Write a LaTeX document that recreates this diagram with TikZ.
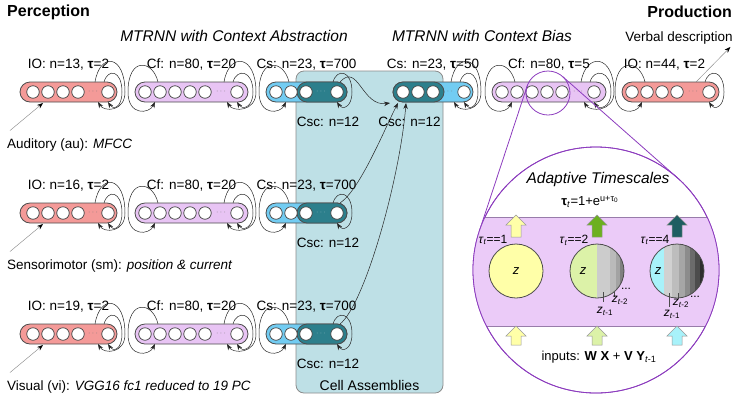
\documentclass[tikz,border=0pt]{standalone}
\usepackage{fontspec}
\setmainfont{Liberation Sans}
\usetikzlibrary{arrows.meta,positioning,calc}

\definecolor{ioRed}{HTML}{F49A98}
\definecolor{cfLila}{HTML}{E8C4F4}
\definecolor{csBlue}{HTML}{72CCF2}
\definecolor{cscTeal}{HTML}{2C7F8C}
\definecolor{caBox}{HTML}{BEE0E6}
\definecolor{zoomLila}{HTML}{8C3CBE}
\definecolor{bandLila}{HTML}{EBCBF8}
\definecolor{zYellow}{HTML}{FFFFA8}
\definecolor{zGreen}{HTML}{DCF2A8}
\definecolor{zCyan}{HTML}{A8F2FA}
\definecolor{outGreen}{HTML}{6CB020}
\definecolor{outTeal}{HTML}{1E5E62}

\tikzset{
  bar/.style={rectangle, rounded corners=10pt, draw=black!70, line width=0.8pt,
    minimum height=20pt, inner sep=0pt, outer sep=0pt},
  unit/.style={circle, draw=black!75, fill=white, line width=0.7pt,
    minimum size=12.5pt, inner sep=0pt, outer sep=0pt},
  more/.style={font=\fontsize{8}{8}\selectfont, text=black!55, inner sep=0pt},
  lbl/.style={font=\fontsize{13.5}{16}\selectfont, inner sep=0pt},
  link/.style={-{Stealth[length=6pt,width=4.5pt]}, black!85, line width=0.5pt},
  feed/.style={-{Stealth[length=6pt,width=4.5pt,color=black]}, draw=black!45, line width=0.45pt},
  cabox/.style={rectangle, rounded corners=8pt, draw=black!45, fill=caBox, line width=0.8pt},
  neuron/.style={circle, draw=black!70, line width=0.8pt, minimum size=54pt,
    inner sep=0pt, outer sep=0pt, font=\fontsize{13}{15}\selectfont\itshape},
  lens/.style={circle, draw=zoomLila, line width=0.8pt, inner sep=0pt, outer sep=0pt},
  small/.style={font=\fontsize{12}{14}\selectfont, inner sep=0pt},
}

% recurrent loops round the end of a layer
\newcommand\selfloop[2]{%
  \draw[link] ($(#2|-#1.north)+(-4,0)$) .. controls +(4,-14) and +(0,-22) .. ($(#1.east)+(5,0)$)
    .. controls +(0,16) and +(5,8) .. (#2|-#1.south);}
\newcommand\backloop[2]{%
  \draw[link] ($(#2|-#1.north)+(-13,0)$) .. controls +(5,-30) and +(0,-38) .. ($(#1.east)+(8,0)$)
    .. controls +(0,20) and +(6,10) .. ($(#2|-#1.south)+(-10,0)$);}
\newcommand\fwdloop[2]{%
  \draw[link] ($(#2|-#1.north)+(-2,0)$) .. controls +(-5,-22) and +(0,-36) .. ($(#1.west)+(-7,0)$)
    .. controls +(0,24) and +(-6,12) .. ($(#2|-#1.south)+(-5,0)$);}
% block arrow pointing up: x, tip y, length, colour
\newcommand\upblock[4]{%
  \draw[black!40, line width=0.5pt, fill=#4] (#1,#2) -- ++(10,10) -- ++(-5,0) -- ++(0,#3-10)
    -- ++(-10,0) -- ++(0,10-#3) -- ++(-5,0) -- cycle;}

\begin{document}
\begin{tikzpicture}[x=1pt, y=-1pt]
  \useasboundingbox (0,0) rectangle (738,400);

  % cell assemblies
  \node[cabox, minimum width=147pt, minimum height=322pt] (ca) at (369.5,232) {};
  \node[lbl, font=\fontsize{14}{17}\selectfont, above=3pt of ca.south] (caLabel) {Cell Assemblies};

  % titles
  \node[font=\bfseries\fontsize{16}{19}\selectfont, anchor=west, inner sep=0pt] (perc) at (7,12) {Perception};
  \node[font=\bfseries\fontsize{16}{19}\selectfont, anchor=east, inner sep=0pt] (prod) at (732,12) {Production};
  \node[font=\itshape\fontsize{15.5}{18}\selectfont] (mtrnnA) at (234,36) {MTRNN with Context Abstraction};
  \node[font=\itshape\fontsize{15.5}{18}\selectfont] (mtrnnB) at (482,36) {MTRNN with Context Bias};
  \node[lbl] (verbal) at (679,38) {Verbal description};

  % perception
  \foreach \row/\y/\nio/\src in {au/92/13/{Auditory (au): \textit{MFCC}},
      sm/213/16/{Sensorimotor (sm): \textit{position \& current}},
      vi/334/19/{Visual (vi): \textit{VGG16 fc1 reduced to 19 PC}}}{
    \node[bar, fill=ioRed, minimum width=97pt] (\row IO) at (68.5,\y) {};
    \foreach \i/\ux in {1/33,2/48,3/63,4/78,n/108}
      \node[unit] (\row IO\i) at (\ux,\y) {};
    \node[more] at (93,\y) {$\cdots$};
    \node[bar, fill=cfLila, minimum width=113pt] (\row Cf) at (191.5,\y) {};
    \foreach \i/\ux in {1/145,2/160,3/175,4/190,5/205,n/237}
      \node[unit] (\row Cf\i) at (\ux,\y) {};
    \node[more] at (221,\y) {$\cdots$};
    \node[bar, fill=csBlue, minimum width=81pt] (\row Cs) at (306.5,\y) {};
    \node[bar, fill=cscTeal, minimum width=50pt] (\row Csc) at (322,\y) {};
    \foreach \i/\ux in {1/276,2/291,3/306,n/337}
      \node[unit] (\row Cs\i) at (\ux,\y) {};
    \node[more, text=white!50!cscTeal] at (321,\y) {$\cdots$};

    \node[lbl, above=11.5pt of \row IO] {IO: n=\nio, \textbf{τ}=2};
    \node[lbl, above=11.5pt of \row Cf] {Cf: n=80, \textbf{τ}=20};
    \node[lbl, above=11.5pt of \row Cs] {Cs: n=23, \textbf{τ}=700};
    \node[lbl, below=15pt of \row Csc, xshift=6pt] {Csc: n=12};
    \node[lbl, anchor=west] (\row In) at (7,\y+53) {\src};
    \draw[feed] ($(\row In.north west)+(3,-8)$) -- ($(\row IO1|-\row IO.south)+(10,1)$);

    \selfloop{\row IO}{\row IOn}
    \backloop{\row IO}{\row IOn}
    \fwdloop{\row Cf}{\row Cf2}
    \selfloop{\row Cf}{\row Cfn}
    \backloop{\row Cf}{\row Cfn}
    \fwdloop{\row Cs}{\row Cs2}
    \selfloop{\row Cs}{\row Csn}
  }

  % production
  \node[bar, fill=csBlue, minimum width=80pt] (prCs) at (433,92) {};
  \node[bar, fill=cscTeal, minimum width=51pt] (prCsc) at (418.5,92) {};
  \foreach \i/\ux in {1/403,2/418,3/433,n/464}
    \node[unit] (prCs\i) at (\ux,92) {};
  \node[more] at (448,92) {$\cdots$};
  \node[bar, fill=cfLila, minimum width=114pt] (prCf) at (549,92) {};
  \foreach \i/\ux in {1/502,2/517,3/532,4/547,5/562,n/594}
    \node[unit] (prCf\i) at (\ux,92) {};
  \node[more] at (578,92) {$\cdots$};
  \node[bar, fill=ioRed, minimum width=97pt] (prIO) at (670.5,92) {};
  \foreach \i/\ux in {1/632,2/647,3/662,4/677,n/709}
    \node[unit] (prIO\i) at (\ux,92) {};
  \node[more] at (693,92) {$\cdots$};

  \node[lbl, above=11.5pt of prCs] {Cs: n=23, \textbf{τ}=50};
  \node[lbl, below=15pt of prCsc, xshift=-9pt] {Csc: n=12};
  \node[lbl, above=11.5pt of prCf] {Cf: n=80, \textbf{τ}=5};
  \node[lbl, above=11.5pt of prIO, xshift=-6pt] {IO: n=44, \textbf{τ}=2};

  \selfloop{prCs}{prCsn}
  \backloop{prCs}{prCsn}
  \fwdloop{prCf}{prCf2}
  \selfloop{prCf}{prCfn}
  \backloop{prCf}{prCfn}
  \fwdloop{prIO}{prIO2}
  \selfloop{prIO}{prIOn}
  \draw[feed] ($(prIOn|-prIO.north)+(-13,0)$) -- ($(verbal.south east)+(-2.5,2.5)$);

  % context links into the cell assemblies
  \draw[link] ($(auCsn|-auCs.north)+(3,0)$) .. controls +(18,-20) and +(-28,4) .. ($(prCs1|-prCs.south)+(-13,1)$);
  \draw[link] ($(smCsn|-smCs.north)+(3,0)$) .. controls +(20,-13) and +(-13,25) .. ($(prCs1|-prCs.south)+(-5,1)$);
  \draw[link] ($(viCsn|-viCs.north)+(3,0)$) .. controls +(25,-20) and +(-6,75) .. ($(prCs1|-prCs.south)+(3,1)$);

  % adaptive timescales
  \node[lens, minimum size=44pt] (lens) at (548,93) {};
  \node[lens, fill=white, minimum size=246pt] (detail) at (596,270) {};
  \draw[zoomLila, line width=0.8pt] (lens.161.8) -- (detail.161.8) (lens.48.6) -- (detail.48.6);
  \begin{scope}
    \clip (detail.center) circle[radius=123pt];
    \fill[bandLila] (470,217) rectangle (725,326);
    \draw[black!40!zoomLila!60, line width=0.7pt] (470,217) -- (725,217) (470,326) -- (725,326);
  \end{scope}
  \draw[zoomLila, line width=0.8pt] (detail.center) circle[radius=123pt];

  \node[font=\itshape\fontsize{15.5}{18}\selectfont] (adapt) at (598,179) {Adaptive Timescales};
  \node[font=\fontsize{13}{15}\selectfont] (law) at (590,202)
    {\textbf{τ}\textsubscript{\textit{t}}=1+e\textsuperscript{u+τ\textsubscript{0}}};

  \upblock{516}{215}{22}{zYellow}
  \upblock{597}{215}{22}{outGreen}
  \upblock{677}{215}{22}{outTeal}
  \upblock{516}{326}{19}{zYellow}
  \upblock{597}{326}{19}{zGreen}
  \upblock{677}{326}{19}{zCyan}

  \node[neuron, fill=zYellow] (tau1) at (516,271) {z};
  \begin{scope}
    \clip (597,271) circle[radius=27pt];
    \fill[zGreen] (569,243) rectangle (597,299);
    \foreach \a/\b/\s in {597/610/20,610/616/27,616/620/36,620/626/50}
      \fill[black!\s] (\a,243) rectangle (\b,299);
  \end{scope}
  \node[neuron] (tau2) at (597,271) {};
  \node[font=\fontsize{13}{15}\selectfont\itshape] (z2) at (583,271) {z};
  \begin{scope}
    \clip (677,271) circle[radius=27pt];
    \fill[zCyan] (649,243) rectangle (664,299);
    \foreach \a/\b/\s in {664/672/18,672/679/26,679/685/35,685/690/45,690/695/58,695/700/70,700/706/82}
      \fill[black!\s] (\a,243) rectangle (\b,299);
  \end{scope}
  \node[neuron] (tau3) at (677,271) {};
  \node[font=\fontsize{13}{15}\selectfont\itshape] (z3) at (658,271) {z};

  \node[small] at (493,240) {\textit{τ}\textsubscript{\textit{t}}==1};
  \node[small] at (574,240) {\textit{τ}\textsubscript{\textit{t}}==2};
  \node[small] at (655,240) {\textit{τ}\textsubscript{\textit{t}}==4};

  \draw[black!70, line width=0.5pt] (603,292) -- (603,302) (614,292) -- (614,297);
  \node[small] at (620,300) {\textit{z}\textsubscript{\textit{t}-2}};
  \node[small] at (605,311) {\textit{z}\textsubscript{\textit{t}-1}};
  \node[small] at (626,289) {...};
  \draw[black!70, line width=0.5pt] (669,293) -- (669,307) (678,293) -- (678,299);
  \node[small] at (681,303) {\textit{z}\textsubscript{\textit{t}-2}};
  \node[small] at (672,314) {\textit{z}\textsubscript{\textit{t}-1}};
  \node[small] at (695,297) {...};

  \node[font=\fontsize{13}{15}\selectfont] (inputs) at (599,357)
    {inputs: \textbf{W X} + \textbf{V Y}\textsubscript{\textit{t}-1}};
\end{tikzpicture}
\end{document}
